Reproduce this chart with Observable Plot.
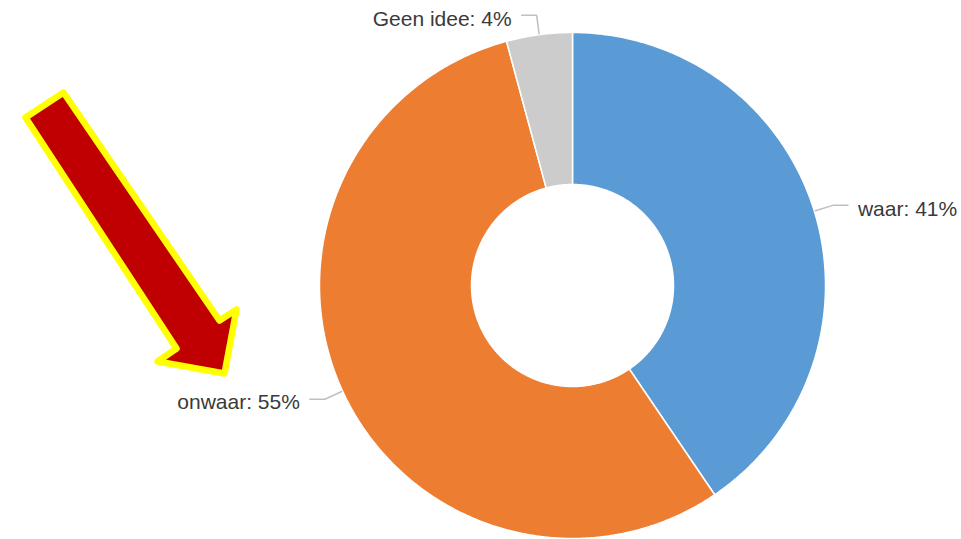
<!DOCTYPE html>
<html>
<head>
<meta charset="utf-8">
<script src="https://cdn.jsdelivr.net/npm/d3@7"></script>
<script src="https://cdn.jsdelivr.net/npm/@observablehq/plot@0.6"></script>
<style>
  html, body { margin: 0; padding: 0; background: #fff; }
  #chart svg { display: block; }
</style>
</head>
<body>
<div id="chart"></div>
<script>
// ---- data ----
const categories = ["waar", "onwaar", "Geen idee"];
const values = [40.5, 55.3, 4.2];
const labels = ["waar: 41%", "onwaar: 55%", "Geen idee: 4%"];
const colors = ["#5B9BD5", "#ED7D31", "#CCCCCC"];

// annotation arrow outline (chart coordinate units)
const arrowX = [25, 63, 219, 236, 224, 157, 176, 25];
const arrowY = [117, 92, 320, 309, 373, 361, 348, 117];

// ---- layout ----
const W = 961, H = 539;
const cx = 572, cy = 285, R = 253, r0 = 101;
const elbowR = 272.5, tail = 15;

const total = d3.sum(values);
let acc = 0;
const slices = categories.map((c, i) => {
  const a0 = acc / total * 2 * Math.PI;
  acc += values[i];
  const a1 = acc / total * 2 * Math.PI;
  return {cat: c, a0, a1, mid: (a0 + a1) / 2, label: labels[i]};
});
const pt = (a, rad) => [cx + rad * Math.sin(a), cy - rad * Math.cos(a)];

// slice outlines
const slicePts = [];
for (const s of slices) {
  const n = Math.max(4, Math.ceil((s.a1 - s.a0) / (Math.PI / 360)));
  const ring = [];
  for (let k = 0; k <= n; k++) ring.push(pt(s.a0 + (s.a1 - s.a0) * k / n, R));
  for (let k = n; k >= 0; k--) ring.push(pt(s.a0 + (s.a1 - s.a0) * k / n, r0));
  ring.push(ring[0]);
  for (const [x, y] of ring) slicePts.push({cat: s.cat, x, y});
}

// leader lines and labels
const leaderPts = [];
const labelRows = [];
for (const s of slices) {
  const right = Math.sin(s.mid) >= 0;
  const [x0, y0] = pt(s.mid, R + 1);
  const [x1, y1] = pt(s.mid, elbowR);
  const x2 = x1 + (right ? tail : -tail);
  leaderPts.push({cat: s.cat, x: x0, y: y0}, {cat: s.cat, x: x1, y: y1}, {cat: s.cat, x: x2, y: y1});
  labelRows.push({text: s.label, x: x2 + (right ? 10 : -10), y: y1 + 3.5, anchor: right ? "start" : "end"});
}

const arrowPts = arrowX.map((x, i) => ({x, y: arrowY[i]}));

const chart = Plot.plot({
  width: W,
  height: H,
  margin: 0,
  style: {background: "#fff"},
  x: {domain: [0, W], range: [0, W], axis: null},
  y: {domain: [0, H], range: [0, H], axis: null},
  color: {domain: categories, range: colors},
  marks: [
    Plot.line(slicePts, {x: "x", y: "y", z: "cat", fill: "cat", stroke: "#fff", strokeWidth: 1.5, curve: "linear"}),
    Plot.line(leaderPts, {x: "x", y: "y", z: "cat", stroke: "#BFBFBF", strokeWidth: 1.5, curve: "linear"}),
    Plot.text(labelRows.filter(d => d.anchor === "start"), {x: "x", y: "y", text: "text", textAnchor: "start", lineAnchor: "middle", fontSize: 21, fill: "#3A3A3A", fontFamily: "Liberation Sans, Arial, sans-serif"}),
    Plot.text(labelRows.filter(d => d.anchor === "end"), {x: "x", y: "y", text: "text", textAnchor: "end", lineAnchor: "middle", fontSize: 21, fill: "#3A3A3A", fontFamily: "Liberation Sans, Arial, sans-serif"}),
    Plot.line(arrowPts, {x: "x", y: "y", fill: "#C00000", stroke: "#FFFF00", strokeWidth: 6.5, strokeLinejoin: "round", curve: "linear"})
  ]
});
document.getElementById("chart").appendChild(chart);
</script>
</body>
</html>
